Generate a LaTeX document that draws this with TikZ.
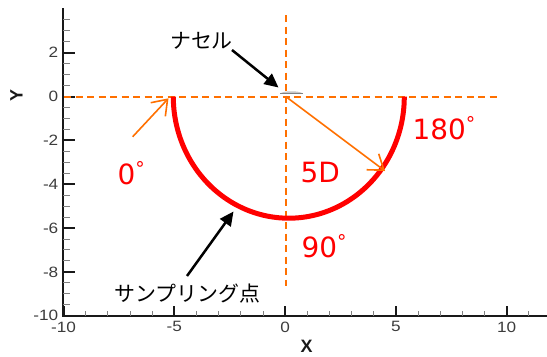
\documentclass[tikz,border=0pt]{standalone}
\usepackage{fontspec}
\usetikzlibrary{arrows.meta}
\newfontfamily\lblfont{DejaVu Sans}
\newfontfamily\tickfont[FakeStretch=1.15]{Liberation Sans}
\newfontfamily\axfont{Liberation Sans}
\newfontfamily\jpfont{Noto Sans CJK JP}
\definecolor{dorange}{RGB}{255,112,0}
\definecolor{ticklbl}{RGB}{60,60,60}
\definecolor{axcol}{RGB}{25,25,25}
\newcommand{\degr}{\raisebox{9bp}{\fontsize{19}{19}\selectfont °}}
\begin{document}
\begin{tikzpicture}[x=1bp,y=-1bp,
  axisline/.style={axcol, line width=2bp},
  majortick/.style={axcol, line width=2bp},
  minortick/.style={gray, line width=0.9bp},
  ticklabel/.style={ticklbl, inner sep=0pt, font=\tickfont\fontsize{15}{15}\selectfont},
  axlabel/.style={axcol, inner sep=0pt, font=\axfont\bfseries\fontsize{18}{18}\selectfont},
  guide/.style={dorange, dash pattern=on 7bp off 4.5bp},
  redlabel/.style={red, inner sep=0pt, anchor=base west, font=\lblfont\fontsize{28}{28}\selectfont},
  jplabel/.style={black, inner sep=0pt, font=\jpfont\fontsize{21}{21}\selectfont},
  pointer/.style={black, line width=2.5bp, -{Triangle[length=14bp,width=13bp]}},
  radius arrow/.style={dorange, line width=1.6bp, -{Straight Barb[length=14bp,width=20bp]}}
]
\useasboundingbox (0,0) rectangle (547,356);
% axes
\draw[axisline] (63.3,8) -- (63.3,315.7) -- (547,315.7);
\foreach \X in {-10,-5,0,5,10}{
  \draw[majortick] ({285.1+22.15*\X},315.7) -- ({285.1+22.15*\X},305.5);
  \node[ticklabel, anchor=north] (xl\X) at ({285.1+22.15*\X},321.5) {\X};
}
\foreach \X in {-9,-8,-7,-6,-4,-3,-2,-1,1,2,3,4,6,7,8,9,11}{
  \draw[minortick] ({285.1+22.15*\X},315.7) -- ({285.1+22.15*\X},310.5);
}
\foreach \Y in {-10,-8,-6,-4,-2,0,2}{
  \draw[majortick] (63.3,{96.5-21.92*\Y}) -- (74.5,{96.5-21.92*\Y});
  \node[ticklabel, anchor=east] (yl\Y) at (58.5,{96.5-21.92*\Y}) {\Y};
}
\foreach \Y in {-9.5,-9,-8.5,-7.5,-7,-6.5,-5.5,-5,-4.5,-3.5,-3,-2.5,-1.5,-1,-0.5,0.5,1,1.5,2.5,3,3.5}{
  \draw[minortick] (63.3,{96.5-21.92*\Y}) -- (69.5,{96.5-21.92*\Y});
}
\node[axlabel, rotate=90] (ylab) at (16.5,96) {Y};
\node[axlabel] (xlab) at (306.5,346) {X};
% guide lines
\coordinate (c) at (286,96.7);
\coordinate (hl) at (64,96.7);
\coordinate (hr) at (497,96.7);
\coordinate (vt) at (286,15);
\coordinate (vb) at (286,286);
\draw[guide, line width=2bp] (hl) -- (hr);
\draw[guide, line width=1.6bp] (vt) -- (vb);
% sampling semicircle
\draw[red, line width=5bp] plot[smooth, domain=0:180, samples=73] ({288.8+115.5*cos(\x)},{96.7+121.5*sin(\x)});
% nacelle
\fill[gray!45] (280,93.5) .. controls (284,90.5) and (299,90.5) .. (303,93.5) -- cycle;
\draw[gray, line width=0.8bp] (280,93.5) -- (303,93.5);
% orange arrows
\coordinate (a0s) at (132.7,136.7);
\coordinate (a0e) at (168.5,98.3);
\coordinate (rad) at (385,171);
\draw[radius arrow] (a0s) -- (a0e);
\draw[radius arrow] (c) -- (rad);
% red labels
\node[redlabel] (l0) at (117.5,184.5) {0\degr};
\node[redlabel] (l180) at (412.5,139.5) {180\degr};
\node[redlabel] (l5d) at (300.5,182.5) {5D};
\node[redlabel] (l90) at (301.5,257) {90\degr};
% japanese labels and pointers
\node[jplabel] (nac) at (201.5,41) {ナセル};
\node[jplabel] (samp) at (187.5,294) {サンプリング点};
\coordinate (nacTip) at (278.5,87.5);
\coordinate (sampTip) at (233.5,211.5);
\draw[pointer] (232,50) -- (nacTip);
\draw[pointer] (187,276) -- (sampTip);
\end{tikzpicture}
\end{document}
